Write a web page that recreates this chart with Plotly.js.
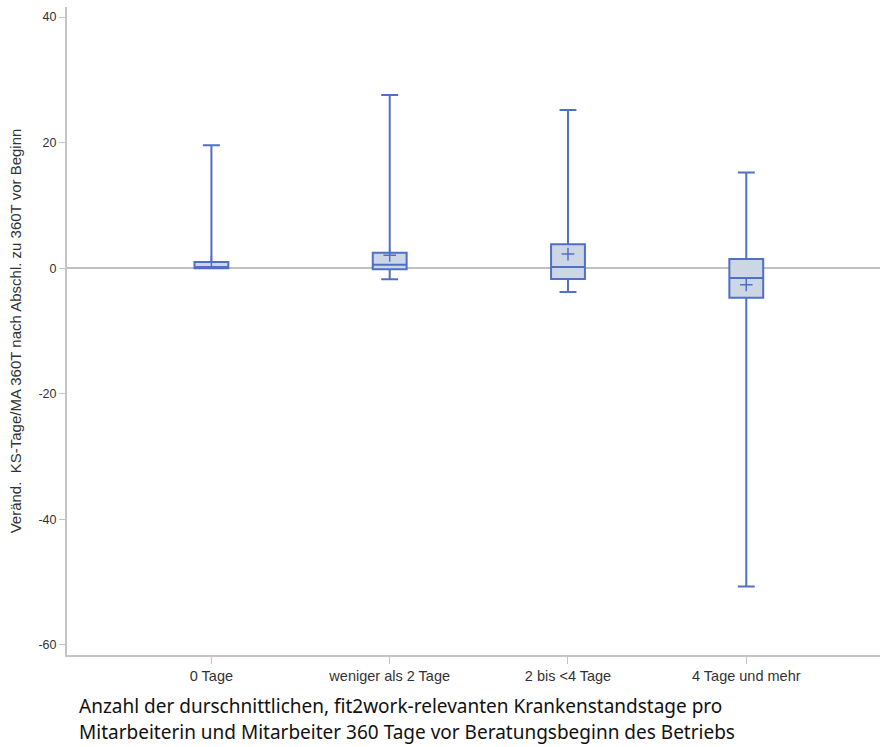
<!DOCTYPE html>
<html>
<head>
<meta charset="utf-8">
<script src="https://cdn.plot.ly/plotly-3.0.1.min.js"></script>
<style>html,body{margin:0;padding:0;background:#fff;}#chart{width:881px;height:747px;}</style>
</head>
<body>
<div id="chart"></div>
<script>
const categories = ["0 Tage", "weniger als 2 Tage", "2 bis <4 Tage", "4 Tage und mehr"];
const q1Values = [0.0, -0.15, -1.7, -4.7];
const medianValues = [0.2, 0.55, 0.2, -1.55];
const q3Values = [1.0, 2.45, 3.8, 1.45];
const lowerWhisker = [0.0, -1.75, -3.8, -50.7];
const upperWhisker = [19.6, 27.6, 25.2, 15.25];
const meanValues = [1.0, 2.05, 2.25, -2.65];
const yTickValues = [-60, -40, -20, 0, 20, 40];
const yTitle = "Veränd.  KS-Tage/MA 360T nach Abschl. zu 360T vor Beginn";
const captionLines = ["Anzahl der durschnittlichen, fit2work-relevanten Krankenstandstage pro", "Mitarbeiterin und Mitarbeiter 360 Tage vor Beratungsbeginn des Betriebs"];

const lineColor = "#4f70c4";
const fillColor = "rgba(205,214,229,1)";

const boxTrace = {
  type: "box",
  x: categories,
  q1: q1Values,
  median: medianValues,
  q3: q3Values,
  lowerfence: lowerWhisker,
  upperfence: upperWhisker,
  fillcolor: fillColor,
  line: {color: lineColor, width: 2},
  whiskerwidth: 0.5,
  width: 0.19,
  boxpoints: false,
  hoverinfo: "skip",
  showlegend: false
};

const meanTrace = {
  type: "scatter",
  mode: "markers",
  x: categories,
  y: meanValues,
  marker: {symbol: "cross-thin-open", size: 9, line: {color: lineColor, width: 1.5}, color: lineColor},
  hoverinfo: "skip",
  showlegend: false
};

const captionY = [-0.0787, -0.1188];

const layout = {
  width: 881,
  height: 747,
  margin: {l: 67, r: 1, t: 7, b: 92},
  paper_bgcolor: "#ffffff",
  plot_bgcolor: "#ffffff",
  showlegend: false,
  xaxis: {
    type: "category",
    range: [-0.81, 3.75],
    showgrid: false,
    zeroline: false,
    showline: true,
    linecolor: "#c4c4c4",
    linewidth: 2,
    ticks: "outside",
    ticklen: 7,
    tickwidth: 1,
    tickcolor: "#c4c4c4",
    tickfont: {family: "'Liberation Sans Narrow', 'Liberation Sans', Arial, sans-serif", size: 14.5, color: "#333"},
    fixedrange: true
  },
  yaxis: {
    range: [-61.6, 41.6],
    tickvals: yTickValues,
    ticktext: yTickValues.map(String),
    showgrid: false,
    zeroline: true,
    zerolinecolor: "#c0c0c0",
    zerolinewidth: 2,
    showline: true,
    linecolor: "#c4c4c4",
    linewidth: 2,
    ticks: "outside",
    ticklen: 6,
    tickwidth: 1,
    tickcolor: "#c4c4c4",
    tickfont: {family: "'Liberation Sans', Arial, sans-serif", size: 12.5, color: "#333"},
    title: {text: yTitle, font: {family: "'Liberation Sans', Arial, sans-serif", size: 15, color: "#333"}, standoff: 13},
    automargin: false,
    fixedrange: true
  },
  annotations: captionLines.map((t, i) => ({
    xref: "paper", yref: "paper",
    x: 0.0123, y: captionY[i],
    xanchor: "left", yanchor: "middle",
    align: "left",
    showarrow: false,
    text: t,
    font: {family: "'Noto Sans', 'Open Sans', sans-serif", size: 19, color: "#111"}
  }))
};

Plotly.newPlot("chart", [boxTrace, meanTrace], layout, {staticPlot: true, displayModeBar: false});
</script>
</body>
</html>
